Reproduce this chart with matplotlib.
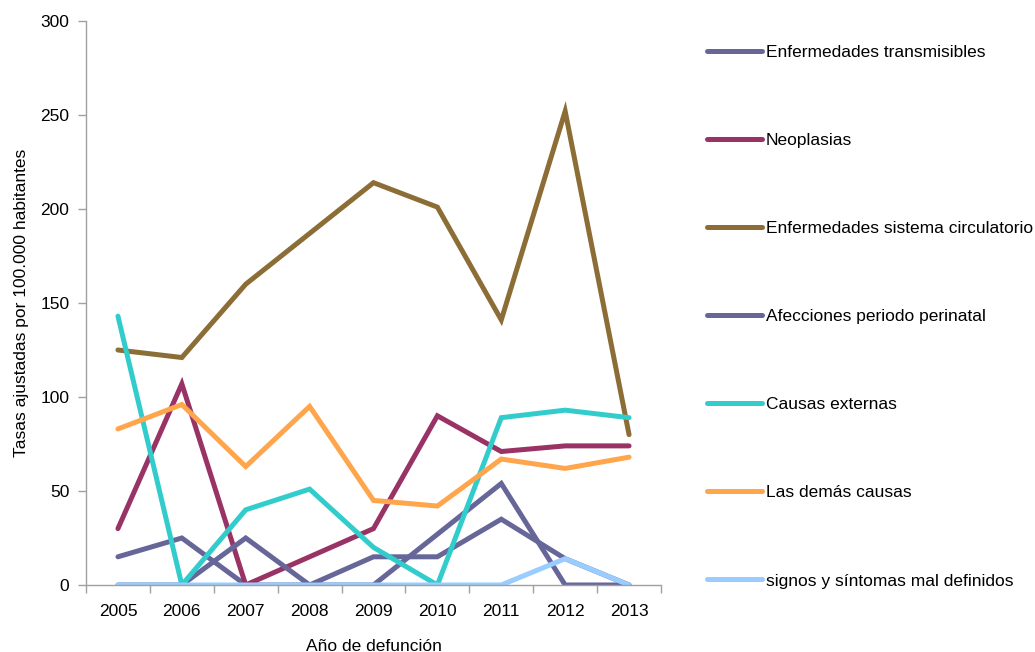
import matplotlib.pyplot as plt

plt.rcParams['font.family'] = ['Liberation Sans Narrow', 'Liberation Sans', 'DejaVu Sans']

years = ['2005', '2006', '2007', '2008', '2009', '2010', '2011', '2012', '2013']

transmisibles = [15, 25, 0, 0, 15, 15, 35, 14, 0]
neoplasias = [30, 107, 0, 15, 30, 90, 71, 74, 74]
circulatorio = [125, 121, 160, 187, 214, 201, 141, 252, 80]
perinatal = [0, 0, 25, 0, 0, 27, 54, 0, 0]
externas = [143, 0, 40, 51, 20, 0, 89, 93, 89]
demas = [83, 96, 63, 95, 45, 42, 67, 62, 68]
signos = [0, 0, 0, 0, 0, 0, 0, 14, 0]

series = [
    ('Enfermedades transmisibles', transmisibles, '#666699'),
    ('Neoplasias', neoplasias, '#993366'),
    ('Enfermedades sistema circulatorio', circulatorio, '#8c6d36'),
    ('Afecciones periodo perinatal', perinatal, '#666699'),
    ('Causas externas', externas, '#33cccc'),
    ('Las demás causas', demas, '#ffa64d'),
    ('signos y síntomas mal definidos', signos, '#99ccff'),
]

fig = plt.figure(figsize=(10.35, 6.52), dpi=100)
ax = fig.add_axes([86 / 1035, 67 / 652, 575 / 1035, 564 / 652])

x = list(range(len(years)))
for label, vals, color in series:
    ax.plot(x, vals, color=color, linewidth=3.6, label=label,
            solid_capstyle='round', solid_joinstyle='miter')

ax.set_xlim(-0.5, len(years) - 0.5)
ax.set_ylim(0, 300)
ax.set_yticks(range(0, 301, 50))
ax.set_xticks(x)
ax.set_xticklabels(years)
ax.set_xticks([i - 0.5 for i in range(len(years) + 1)], minor=True)
ax.tick_params(axis='x', which='major', length=0, labelsize=12.5, pad=14)
ax.tick_params(axis='x', which='minor', length=6, color='#a0a0a0', width=1)
ax.tick_params(axis='y', length=6, color='#a0a0a0', width=1, labelsize=12.5, pad=6)

for side in ['top', 'right']:
    ax.spines[side].set_visible(False)
for side in ['left', 'bottom']:
    ax.spines[side].set_color('#a0a0a0')
    ax.spines[side].set_linewidth(1)

ax.set_xlabel('Año de defunción', fontsize=12.5, labelpad=14)
ax.set_ylabel('Tasas ajustadas por 100.000 habitantes', fontsize=12.5, labelpad=8)

leg = ax.legend(loc='upper left', bbox_to_anchor=(707 / 1035, 1 - 45 / 652),
                bbox_transform=fig.transFigure, frameon=False, fontsize=12.5,
                handlelength=3.15, handletextpad=0.25, labelspacing=4.2,
                borderaxespad=0, borderpad=0)
for line in leg.get_lines():
    line.set_linewidth(3.6)

fig.savefig('out.png', dpi=100)
